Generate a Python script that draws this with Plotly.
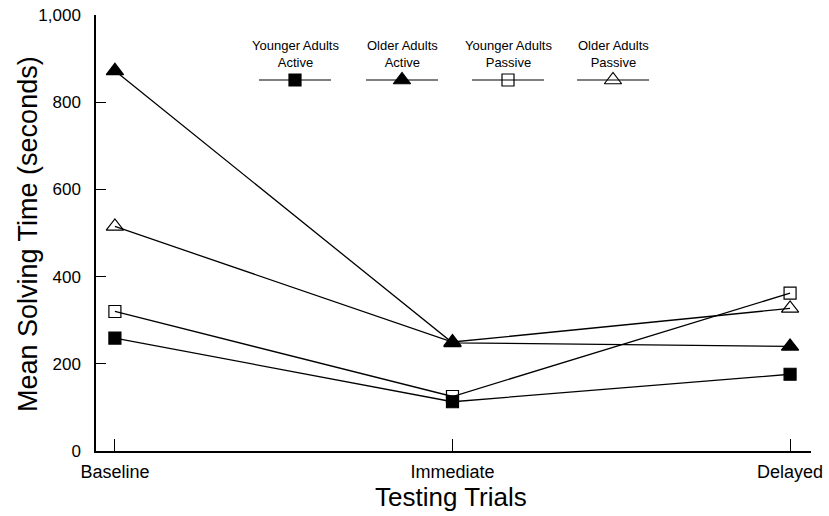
import plotly.graph_objects as go

trials = ["Baseline", "Immediate", "Delayed"]
x_pos = [0, 1, 2]

ya_active = [259, 113, 176]
oa_active = [872, 248, 240]
ya_passive = [320, 125, 362]
oa_passive = [515, 250, 327]

series = [
    ("Younger Adults<br>Active", ya_active, "square", "black"),
    ("Older Adults<br>Active", oa_active, "triangle-up", "black"),
    ("Younger Adults<br>Passive", ya_passive, "square-open", "black"),
    ("Older Adults<br>Passive", oa_passive, "triangle-up-open", "black"),
]
sizes = {"square": 12, "square-open": 12, "triangle-up": 15, "triangle-up-open": 15}

y_ticks = [0, 200, 400, 600, 800, 1000]

FONT = "Liberation Sans, Arial, sans-serif"

# plot area in pixels (for placing decorations)
L, R, T, B = 96, 811, 15, 451
def px_x(p):
    return (p - L) / (R - L)
def px_y(p):
    return (B - p) / (B - T)

fig = go.Figure()

for name, vals, sym, col in series:
    fig.add_trace(go.Scatter(
        x=x_pos, y=vals, mode="lines+markers", name=name,
        line=dict(color="black", width=1.3),
        marker=dict(symbol=sym, size=sizes[sym], color="black",
                    line=dict(color="black", width=1.2)),
        showlegend=False, cliponaxis=False,
    ))

# custom legend drawn in a pixel-like overlay axis
leg_centers = [295, 402, 508, 613]
leg_half = 36
leg_y = 80
for (name, vals, sym, col), cx in zip(series, leg_centers):
    fig.add_trace(go.Scatter(
        x=[cx - leg_half, cx + leg_half], y=[leg_y, leg_y], mode="lines",
        line=dict(color="black", width=1.2), xaxis="x2", yaxis="y2",
        showlegend=False, hoverinfo="skip",
    ))
    fig.add_trace(go.Scatter(
        x=[cx], y=[leg_y], mode="markers",
        marker=dict(symbol=sym, size=sizes[sym], color="black",
                    line=dict(color="black", width=1.2)),
        xaxis="x2", yaxis="y2", showlegend=False, hoverinfo="skip",
    ))
    fig.add_annotation(
        x=px_x(cx), y=px_y(54), xref="paper", yref="paper", text=name,
        showarrow=False, font=dict(family=FONT, size=13, color="black"),
        align="center", yanchor="middle", xanchor="center",
    )

# axis titles
fig.add_annotation(
    x=px_x(28), y=px_y(234), xref="paper", yref="paper",
    text="Mean Solving Time (seconds)", textangle=-90, showarrow=False,
    xanchor="center", yanchor="middle",
    font=dict(family=FONT, size=27, color="black"),
)
fig.add_annotation(
    x=px_x(451), y=px_y(497), xref="paper", yref="paper",
    text="Testing Trials", showarrow=False, xanchor="center", yanchor="middle",
    font=dict(family=FONT, size=26, color="black"),
)

fig.update_layout(
    width=829, height=516,
    margin=dict(l=L, r=829 - R, t=T, b=516 - B, autoexpand=False),
    paper_bgcolor="white", plot_bgcolor="white",
    font=dict(family=FONT, color="black"),
    xaxis=dict(
        range=[-0.056, 2.062], tickvals=x_pos, ticktext=trials,
        ticks="inside", ticklen=12, tickwidth=1, tickcolor="black",
        showline=True, linecolor="black", linewidth=1.5,
        showgrid=False, zeroline=False, automargin=False,
        tickfont=dict(size=18), ticklabelstandoff=4,
    ),
    yaxis=dict(
        range=[0, 1000], tickvals=y_ticks, tickformat=",d",
        ticks="inside", ticklen=10, tickwidth=1, tickcolor="black",
        showline=True, linecolor="black", linewidth=1.5,
        showgrid=False, zeroline=False, automargin=False,
        tickfont=dict(size=17), ticklabelstandoff=10,
    ),
    xaxis2=dict(overlaying="x", range=[L, R], visible=False, fixedrange=True),
    yaxis2=dict(overlaying="y", range=[B, T], visible=False, fixedrange=True),
)

fig.write_html("out.html", config={"displayModeBar": False},
               post_script="document.body.style.margin='0';")
